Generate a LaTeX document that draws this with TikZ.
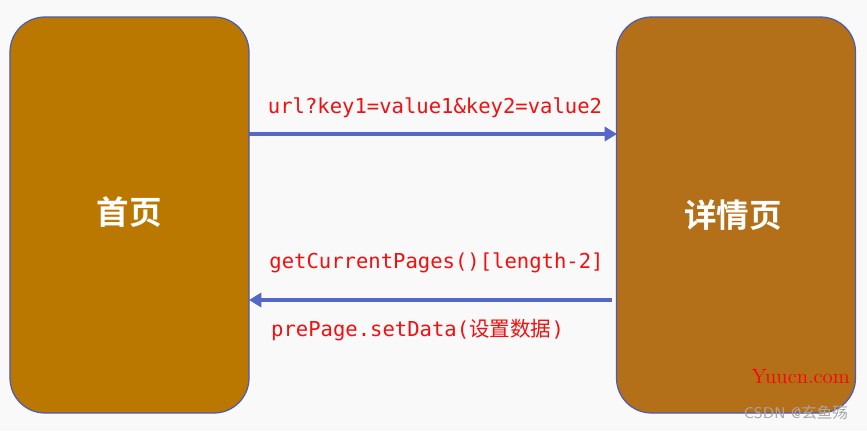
\documentclass[tikz,border=0pt]{standalone}
\usepackage{fontspec}
\setmonofont{DejaVu Sans Mono}
\newfontfamily\cjk{Noto Sans CJK SC}
\newfontfamily\cjkbold{Noto Sans CJK SC Bold}
\usetikzlibrary{arrows.meta}
\definecolor{bgcol}{HTML}{F9F9F9}
\definecolor{homecol}{HTML}{BA7800}
\definecolor{detailcol}{HTML}{B47018}
\definecolor{edgecol}{HTML}{4A5CB4}
\definecolor{arrowcol}{HTML}{5468C8}
\definecolor{labelcol}{HTML}{F01010}
\tikzset{
  pagebox/.style={draw=edgecol, line width=0.7pt, rounded corners=0.7cm,
    minimum width=4.78cm, minimum height=7.92cm, inner sep=0pt},
  pagename/.style={text=white, font=\cjkbold\fontsize{18.5}{22}\selectfont},
  flow/.style={arrowcol, line width=2pt, -{Triangle[length=7pt,width=8pt]}},
  msg/.style={text=labelcol, font=\ttfamily\fontsize{11.7}{14}\selectfont}
}
\begin{document}
\begin{tikzpicture}
\useasboundingbox[fill=bgcol] (0,0) rectangle (17.34,8.62);

\node[pagebox, fill=homecol] (home) at (2.59,4.32) {};
\node[pagebox, fill=detailcol] (detail) at (14.72,4.32) {};
\node[pagename] (homename) at (2.58,4.38) {首页};
\node[pagename] (detailname) at (14.66,4.32) {详情页};

\coordinate (A) at (4.98,5.94);
\coordinate (B) at (12.34,5.94);
\coordinate (C) at (12.24,2.62);
\coordinate (D) at (4.98,2.62);

\draw[flow] (A)--(B);
\draw[flow] (C)--(D);

\node[msg] (query) at (8.7,6.46) {url?key1=value1\&key2=value2};
\node[msg] (getpages) at (8.73,3.36) {getCurrentPages()[length-2]};
\node[msg, anchor=west] (setdata) at (5.3,2.02) {prePage.setData({\cjk 设置数据})};

\node[text=red, font=\fontsize{11.8}{14}\selectfont, anchor=east] (mark) at (17.12,1.08) {Yuucn.com};
\node[text=gray!70, font=\sffamily\fontsize{8.8}{10}\selectfont, anchor=east] (csdn) at (17.08,0.36) {CSDN @{\cjk 玄鱼殇}};
\end{tikzpicture}
\end{document}
